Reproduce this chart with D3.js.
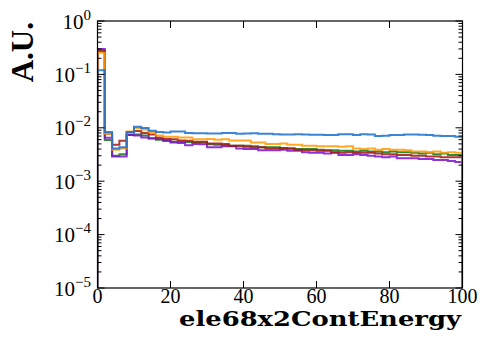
<!DOCTYPE html>
<html>
<head>
<meta charset="utf-8">
<script src="https://cdn.jsdelivr.net/npm/d3@7"></script>
<style>
  html, body { margin: 0; padding: 0; background: #fff; }
  svg { display: block; }
</style>
</head>
<body>
<svg id="chart" width="481" height="340"></svg>
<script>
// ---- data ----
const binEdgesX = d3.range(0, 101, 2);           // 50 bins of width 2
const xTicks = [0, 20, 40, 60, 80, 100];
const yTickExps = [0, -1, -2, -3, -4, -5];
const xLabel = "ele68x2ContEnergy";
const yLabel = "A.U.";

const seriesNames = ["blue", "orange", "red", "green", "purple"];
const seriesColors = ["#1a6ed0", "#ff9a00", "#a51515", "#137513", "#7a10d0"];

const blueVals = [0.120, 0.0083, 0.0041, 0.0043, 0.0083, 0.0105, 0.0099, 0.0088, 0.0083, 0.0082,
  0.0085, 0.0085, 0.0080, 0.0079, 0.0079, 0.0078, 0.0078, 0.0080, 0.0080, 0.0077,
  0.0078, 0.0079, 0.0077, 0.0077, 0.0076, 0.0075, 0.0075, 0.0076, 0.0075, 0.0074,
  0.0074, 0.0073, 0.0073, 0.0076, 0.0076, 0.0073, 0.0076, 0.0075, 0.0070, 0.0071,
  0.0073, 0.0073, 0.0075, 0.0075, 0.0074, 0.0073, 0.0071, 0.0070, 0.0070, 0.0068];
const orangeVals = [0.255, 0.0077, 0.0039, 0.0041, 0.0085, 0.0099, 0.0093, 0.0083, 0.0072, 0.0068,
  0.0068, 0.0066, 0.0066, 0.0061, 0.0061, 0.0062, 0.0060, 0.0061, 0.0058, 0.0058,
  0.0058, 0.0053, 0.0053, 0.0050, 0.0050, 0.0051, 0.0048, 0.0048, 0.0046, 0.0046,
  0.0045, 0.0045, 0.0045, 0.0044, 0.0045, 0.0041, 0.0040, 0.0041, 0.0039, 0.0040,
  0.0039, 0.0039, 0.0038, 0.0036, 0.0036, 0.0035, 0.0036, 0.0034, 0.0035, 0.0034];
const redVals = [0.270, 0.0077, 0.0048, 0.0057, 0.0082, 0.0087, 0.0080, 0.0075, 0.0066, 0.0062,
  0.0061, 0.0058, 0.0057, 0.0055, 0.0055, 0.0051, 0.0051, 0.0050, 0.0046, 0.0046,
  0.0044, 0.0043, 0.0043, 0.0041, 0.0041, 0.0042, 0.0041, 0.0039, 0.0038, 0.0038,
  0.0037, 0.0037, 0.0035, 0.0034, 0.0035, 0.0034, 0.0034, 0.0034, 0.0033, 0.0032,
  0.0032, 0.0031, 0.0031, 0.0030, 0.0030, 0.0029, 0.0029, 0.0028, 0.0028, 0.0028];
const greenVals = [0.280, 0.0059, 0.0030, 0.0032, 0.0073, 0.0075, 0.0072, 0.0063, 0.0060, 0.0057,
  0.0055, 0.0055, 0.0054, 0.0053, 0.0053, 0.0049, 0.0048, 0.0047, 0.0046, 0.0046,
  0.0046, 0.0045, 0.0043, 0.0043, 0.0043, 0.0041, 0.0041, 0.0040, 0.0040, 0.0040,
  0.0039, 0.0038, 0.0038, 0.0037, 0.0037, 0.0036, 0.0037, 0.0036, 0.0036, 0.0035,
  0.0036, 0.0035, 0.0035, 0.0034, 0.0033, 0.0034, 0.0032, 0.0033, 0.0031, 0.0031];
const purpleVals = [0.300, 0.0065, 0.0029, 0.0029, 0.0073, 0.0072, 0.0066, 0.0064, 0.0062, 0.0057,
  0.0053, 0.0052, 0.0047, 0.0050, 0.0049, 0.0043, 0.0043, 0.0045, 0.0045, 0.0041,
  0.0040, 0.0040, 0.0038, 0.0038, 0.0038, 0.0039, 0.0037, 0.0037, 0.0035, 0.0034,
  0.0034, 0.0033, 0.0034, 0.0031, 0.0031, 0.0032, 0.0031, 0.0030, 0.0029, 0.0028,
  0.0029, 0.0027, 0.0027, 0.0027, 0.0026, 0.0026, 0.0025, 0.0025, 0.0024, 0.0023];

const seriesValues = [blueVals, orangeVals, redVals, greenVals, purpleVals];
const drawOrder = [3, 4, 2, 1, 0];

// ---- layout ----
const plot = { left: 97.5, right: 462.5, top: 21, bottom: 288 };

const svg = d3.select("#chart");
const x = d3.scaleLinear().domain([0, 100]).range([plot.left, plot.right]);
const y = d3.scaleLog().domain([1e-5, 1]).range([plot.bottom, plot.top]).clamp(true);

svg.append("defs").append("clipPath").attr("id", "clip")
  .append("rect")
  .attr("x", plot.left).attr("y", plot.top)
  .attr("width", plot.right - plot.left).attr("height", plot.bottom - plot.top);

// ---- histograms (step) ----
const g = svg.append("g").attr("clip-path", "url(#clip)");
drawOrder.forEach(si => {
  const vals = seriesValues[si];
  const pts = [[binEdgesX[0], 1e-5]];
  vals.forEach((v, i) => {
    pts.push([binEdgesX[i], v]);
    pts.push([binEdgesX[i + 1], v]);
  });
  pts.push([binEdgesX[vals.length], 1e-5]);
  const line = d3.line().x(d => x(d[0])).y(d => y(d[1]));
  g.append("path")
    .attr("d", line(pts))
    .attr("fill", "none")
    .attr("stroke", seriesColors[si])
    .attr("stroke-width", 2)
    .attr("stroke-opacity", 0.85)
    .attr("stroke-linejoin", "miter");
});

// ---- axes frame ----
const axisG = svg.append("g");
axisG.append("rect")
  .attr("x", plot.left).attr("y", plot.top)
  .attr("width", plot.right - plot.left).attr("height", plot.bottom - plot.top)
  .attr("fill", "none").attr("stroke", "#000").attr("stroke-width", 1.2);

const majorLen = 7, minorLen = 4;
const yMajor = yTickExps.map(e => Math.pow(10, e));
const yMinor = [];
yTickExps.slice(1).forEach(e => {
  for (let m = 2; m <= 9; m++) yMinor.push(m * Math.pow(10, e));
});
const tickStroke = "#000";
yMajor.forEach(v => {
  const yy = y(v);
  axisG.append("line").attr("x1", plot.left).attr("x2", plot.left + majorLen).attr("y1", yy).attr("y2", yy).attr("stroke", tickStroke);
  axisG.append("line").attr("x1", plot.right).attr("x2", plot.right - majorLen).attr("y1", yy).attr("y2", yy).attr("stroke", tickStroke);
});
yMinor.forEach(v => {
  const yy = y(v);
  axisG.append("line").attr("x1", plot.left).attr("x2", plot.left + minorLen).attr("y1", yy).attr("y2", yy).attr("stroke", tickStroke);
  axisG.append("line").attr("x1", plot.right).attr("x2", plot.right - minorLen).attr("y1", yy).attr("y2", yy).attr("stroke", tickStroke);
});
xTicks.forEach(t => {
  const xx = x(t);
  axisG.append("line").attr("x1", xx).attr("x2", xx).attr("y1", plot.bottom).attr("y2", plot.bottom - majorLen).attr("stroke", tickStroke);
  axisG.append("line").attr("x1", xx).attr("x2", xx).attr("y1", plot.top).attr("y2", plot.top + majorLen).attr("stroke", tickStroke);
});

// ---- tick labels ----
const serif = "Liberation Serif";
yTickExps.forEach((e, i) => {
  const yy = y(yMajor[i]);
  const t = svg.append("text")
    .attr("x", 91).attr("y", yy + 7.5)
    .attr("text-anchor", "end")
    .style("font-family", serif)
    .style("font-size", "21px")
    .attr("fill", "#000");
  t.append("tspan").text("10");
  t.append("tspan").attr("dy", -9).style("font-size", "15px")
    .text(e === 0 ? "0" : "\u2212" + Math.abs(e));
});
xTicks.forEach(t => {
  svg.append("text")
    .attr("x", x(t)).attr("y", plot.bottom + 15)
    .attr("text-anchor", "middle")
    .style("font-family", serif)
    .style("font-size", "20px")
    .attr("fill", "#000")
    .text(t);
});

// ---- axis labels ----
svg.append("text")
  .attr("x", 461).attr("y", 326)
  .attr("text-anchor", "end")
  .style("font-family", "DejaVu Serif")
  .style("font-weight", "bold")
  .style("font-size", "21px")
  .attr("textLength", 282)
  .attr("lengthAdjust", "spacingAndGlyphs")
  .attr("fill", "#000")
  .text(xLabel);

svg.append("text")
  .attr("transform", "translate(33,22) rotate(-90)")
  .attr("text-anchor", "end")
  .style("font-family", serif)
  .style("font-weight", "bold")
  .style("font-size", "31px")
  .attr("fill", "#000")
  .text(yLabel);
</script>
</body>
</html>
